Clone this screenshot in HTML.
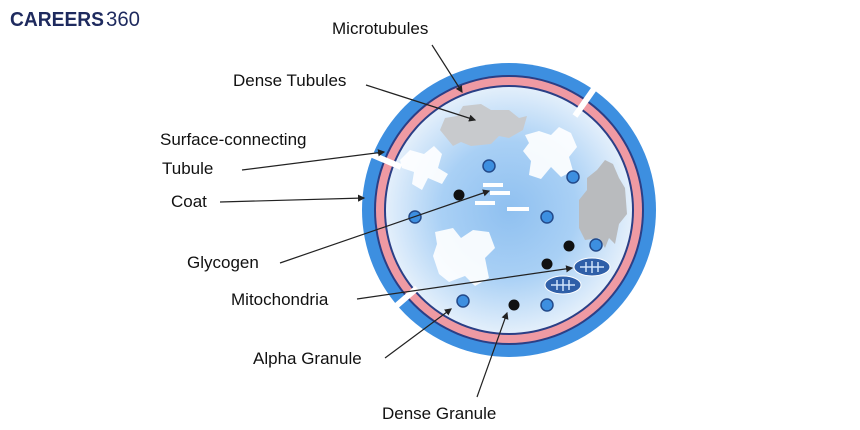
<!DOCTYPE html>
<html><head><style>
html,body{margin:0;padding:0;background:#fff;}
svg{display:block;}
text{font-family:"Liberation Sans",Arial,sans-serif;}
</style></head><body>
<svg width="860" height="430" viewBox="0 0 860 430" xmlns="http://www.w3.org/2000/svg">
<defs>
<radialGradient id="g" cx="0.5" cy="0.5" r="0.5">
<stop offset="0" stop-color="#8fc0f0"/>
<stop offset="0.55" stop-color="#a9d0f5"/>
<stop offset="1" stop-color="#e3effb"/>
</radialGradient>
<marker id="a" markerWidth="6" markerHeight="6" refX="5" refY="3" orient="auto"><path d="M0,0 L6,3 L0,6z" fill="#222"/></marker>
</defs>
<text x="10" y="26" font-size="20" font-weight="bold" fill="#1e2a5e" textLength="94" lengthAdjust="spacingAndGlyphs">CAREERS</text>
<text x="106" y="26" font-size="21" fill="#1e2a5e" textLength="34" lengthAdjust="spacingAndGlyphs">360</text>

<circle cx="509" cy="210" r="147" fill="#3d8fe0"/>
<circle cx="509" cy="210" r="135" fill="#2b3f86"/>
<circle cx="509" cy="210" r="133" fill="#ef9aa3"/>
<circle cx="509" cy="210" r="125" fill="#2b3f86"/>
<circle cx="509" cy="210" r="123" fill="url(#g)"/>
<!-- gaps -->
<line x1="596" y1="86" x2="575" y2="116" stroke="#fff" stroke-width="6"/>
<line x1="368" y1="153" x2="401" y2="167" stroke="#fff" stroke-width="6"/>
<line x1="395" y1="307" x2="417" y2="288" stroke="#fff" stroke-width="6"/>
<!-- grey tubules -->
<path d="M440,130 l5,-12 l12,-2 l6,-10 l18,-2 l10,6 l18,0 l10,8 l8,-2 l-4,14 l-14,8 l-10,-2 l-8,8 l-20,2 l-10,-4 l-8,4z" fill="#c8cacd"/>
<path d="M579,200 l8,-10 l0,-12 l10,-8 l8,-10 l8,4 l6,14 l6,10 l2,26 l-8,10 l-4,20 l-6,-6 l-4,10 l-6,-10 l-14,2 l-6,-12z" fill="#b9bbbe"/>
<!-- white blobs -->
<path d="M400,160 l10,-10 l14,4 l10,-8 l8,8 l-4,14 l10,6 l-6,10 l-14,-6 l-6,12 l-10,-6 l2,-12 l-12,-4z" fill="#fff" opacity="0.9"/>
<path d="M525,135 l14,-4 l12,4 l8,-8 l12,6 l6,14 l-8,10 l4,14 l-12,6 l-10,-10 l-10,12 l-12,-4 l2,-14 l-8,-10 l6,-8z" fill="#fff" opacity="0.9"/>
<path d="M435,232 l18,-4 l8,10 l12,-8 l16,2 l6,16 l-10,10 l4,20 l-14,8 l-10,-10 l-16,6 l-10,-8 l-6,-18 l4,-12z" fill="#fff" opacity="0.9"/>
<!-- glycogen bars -->
<rect x="483" y="183" width="20" height="4" fill="#fff"/>
<rect x="490" y="191" width="20" height="4" fill="#fff"/>
<rect x="475" y="201" width="20" height="4" fill="#fff"/>
<rect x="507" y="207" width="22" height="4" fill="#fff"/>
<!-- granules -->
<g fill="#3d8fe0" stroke="#234a8a" stroke-width="1.5">
<circle cx="489" cy="166" r="6"/><circle cx="573" cy="177" r="6"/><circle cx="415" cy="217" r="6"/>
<circle cx="547" cy="217" r="6"/><circle cx="596" cy="245" r="6"/><circle cx="463" cy="301" r="6"/><circle cx="547" cy="305" r="6"/>
</g>
<g fill="#111"><circle cx="459" cy="195" r="5.5"/><circle cx="569" cy="246" r="5.5"/><circle cx="547" cy="264" r="5.5"/><circle cx="514" cy="305" r="5.5"/></g>
<!-- mitochondria -->
<ellipse cx="592" cy="267" rx="18" ry="9" fill="#2f5fa8" stroke="#fff" stroke-width="1"/>
<ellipse cx="563" cy="285" rx="18" ry="9" fill="#2f5fa8" stroke="#fff" stroke-width="1"/>
<path d="M580,267 h24 M586,262 v10 M592,261 v12 M598,262 v10 M551,285 h24 M557,280 v10 M563,279 v12 M569,280 v10" stroke="#cfe3fb" stroke-width="1.5"/>
<!-- leaders -->
<g stroke="#222" stroke-width="1.2" fill="none" marker-end="url(#a)">
<line x1="432" y1="45" x2="462" y2="92"/>
<line x1="366" y1="85" x2="475" y2="120"/>
<line x1="242" y1="170" x2="384" y2="152"/>
<line x1="220" y1="202" x2="364" y2="198"/>
<line x1="280" y1="263" x2="489" y2="191"/>
<line x1="357" y1="299" x2="572" y2="268"/>
<line x1="385" y1="358" x2="451" y2="309"/>
<line x1="477" y1="397" x2="507" y2="313"/>
</g>
<g font-size="17" fill="#111">
<text x="332" y="34">Microtubules</text>
<text x="233" y="86">Dense Tubules</text>
<text x="160" y="145">Surface-connecting</text>
<text x="162" y="174">Tubule</text>
<text x="171" y="207">Coat</text>
<text x="187" y="268">Glycogen</text>
<text x="231" y="305">Mitochondria</text>
<text x="253" y="364">Alpha Granule</text>
<text x="382" y="419">Dense Granule</text>
</g>
</svg>
</body></html>
